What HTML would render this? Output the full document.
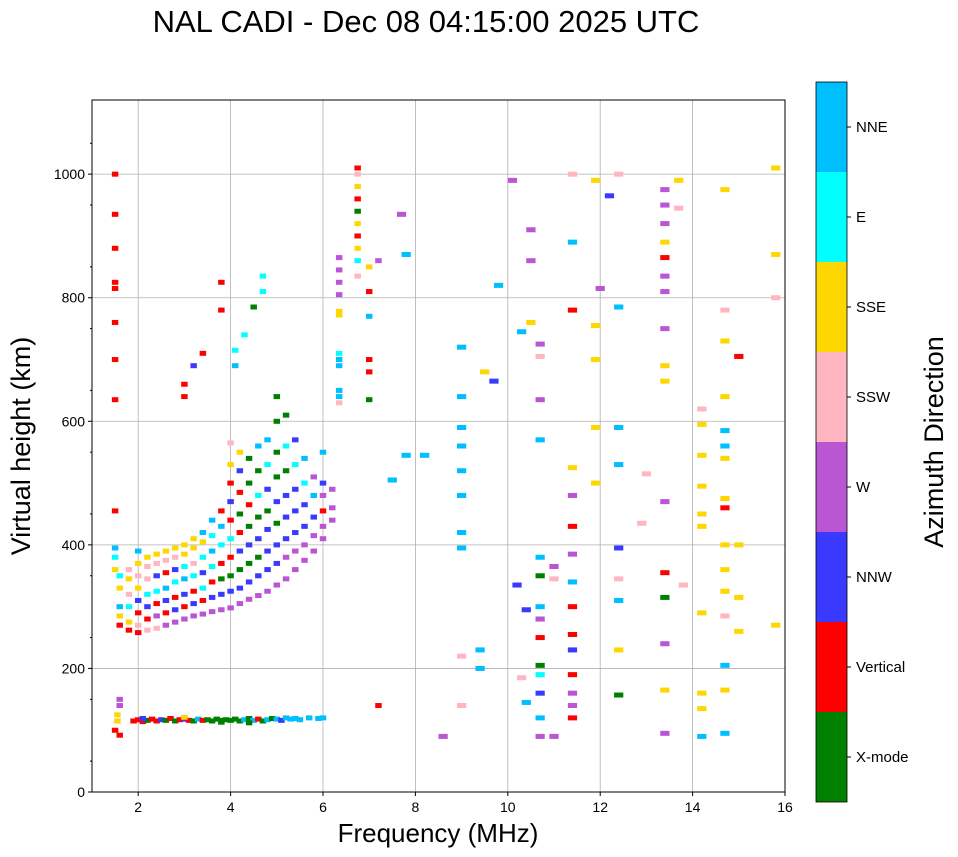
<!DOCTYPE html>
<html><head><meta charset="utf-8">
<style>
body{margin:0;background:#fff;}
svg{display:block;font-family:"Liberation Sans",sans-serif;}
</style></head>
<body>
<svg id="chart" width="958" height="857" xmlns="http://www.w3.org/2000/svg">
<text x="426" y="32" font-size="31" text-anchor="middle">NAL CADI - Dec 08 04:15:00 2025 UTC</text>
<rect x="92" y="100" width="693" height="692" fill="#fff"/>
<g id="grid"></g>
<g id="marks"></g>
<rect x="92" y="100" width="693" height="692" fill="none" stroke="#000" stroke-width="1"/>
<g id="axes"></g>
<text x="438" y="842" font-size="26" text-anchor="middle">Frequency (MHz)</text>
<text transform="translate(30,446) rotate(-90)" font-size="27" text-anchor="middle">Virtual height (km)</text>
<g id="colorbar"></g>
<text transform="translate(943,442) rotate(-90)" font-size="27" text-anchor="middle">Azimuth Direction</text>
</svg>
<script>
const xTicks=[2,4,6,8,10,12,14,16];
const yTicks=[0,200,400,600,800,1000];
const dirNames=["X-mode","Vertical","NNW","W","SSW","SSE","E","NNE"];
const dirColors=["#008000","#ff0000","#3a3aff","#ba55d3","#ffb6c1","#ffd700","#00ffff","#00bfff"];
const freqs=[1.9,2.0,2.1,2.2,2.3,2.4,2.5,2.6,2.7,2.8,2.9,3.0,3.1,3.2,3.3,3.4,3.5,3.6,3.7,3.8,3.9,4.0,4.1,4.2,4.3,4.4,4.5,4.6,4.7,4.8,4.9,5.0,5.1,5.2,5.3,5.4,5.5,5.7,5.9,6.0,2.1,3.0,3.8,4.4,
1.5,1.6,1.55,1.55,1.6,1.6,1.5,1.5,1.5,1.5,1.5,1.5,1.5,1.5,1.5,1.5,1.5,1.5,
1.6,1.6,1.6,1.6,1.6,1.8,1.8,1.8,1.8,1.8,1.8,2.0,2.0,2.0,2.0,2.0,2.0,2.0,2.0,2.2,2.2,2.2,2.2,2.2,2.2,2.2,2.4,2.4,2.4,2.4,2.4,2.4,2.4,2.6,2.6,2.6,2.6,2.6,2.6,2.6,2.8,2.8,2.8,2.8,2.8,2.8,2.8,3.0,3.0,3.0,3.0,3.0,3.0,3.0,3.2,3.2,3.2,3.2,3.2,3.2,3.2,3.4,3.4,3.4,3.4,3.4,3.4,3.4,3.6,3.6,3.6,3.6,3.6,3.6,3.6,3.8,3.8,3.8,3.8,3.8,3.8,3.8,
4.0,4.0,4.0,4.0,4.0,4.0,4.0,4.0,4.0,4.0,4.2,4.2,4.2,4.2,4.2,4.2,4.2,4.2,4.2,4.4,4.4,4.4,4.4,4.4,4.4,4.4,4.4,4.6,4.6,4.6,4.6,4.6,4.6,4.6,4.6,4.8,4.8,4.8,4.8,4.8,4.8,4.8,4.8,5.0,5.0,5.0,5.0,5.0,5.0,5.0,5.0,5.0,5.2,5.2,5.2,5.2,5.2,5.2,5.2,5.2,5.4,5.4,5.4,5.4,5.4,5.4,5.4,5.6,5.6,5.6,5.6,5.6,5.6,5.8,5.8,5.8,5.8,5.8,6.0,6.0,6.0,6.0,6.0,6.0,6.2,6.2,6.2,
3.0,3.0,3.2,3.4,3.8,3.8,4.1,4.1,4.3,4.5,4.7,4.7,
6.35,6.35,6.35,6.35,6.35,6.35,6.35,6.35,6.35,6.35,6.35,6.35,6.75,6.75,6.75,6.75,6.75,6.75,6.75,6.75,6.75,6.75,7.0,7.0,7.0,7.0,7.0,7.0,
9.0,9.0,9.0,9.0,9.0,9.0,9.0,9.0,10.7,10.7,10.7,10.7,10.7,10.7,10.7,10.7,10.7,10.7,10.7,10.7,10.7,10.7,
11.4,11.4,11.4,11.4,11.4,11.4,11.4,11.4,11.4,11.4,11.4,11.4,11.4,11.4,11.4,12.4,12.4,12.4,12.4,12.4,12.4,12.4,12.4,12.4,
13.4,13.4,13.4,13.4,13.4,13.4,13.4,13.4,13.4,13.4,13.4,13.4,13.4,13.4,13.4,13.4,
14.2,14.2,14.2,14.2,14.2,14.2,14.2,14.2,14.2,14.2,
14.7,14.7,14.7,14.7,14.7,14.7,14.7,14.7,14.7,14.7,14.7,14.7,14.7,14.7,14.7,14.7,
15.0,15.0,15.0,15.0,15.8,15.8,15.8,15.8,
9.0,9.0,9.4,9.4,9.5,9.7,10.2,10.3,10.4,10.4,10.5,10.5,10.1,9.8,10.3,10.5,11.0,11.0,11.0,11.9,11.9,11.9,11.9,11.9,12.2,12.0,13.0,12.9,13.8,13.7,13.7,8.2,8.6,7.8,7.7,7.5,7.8,7.2,7.2];
const heights=[115,117,114,116,118,115,117,116,119,115,117,118,116,115,118,116,117,115,118,116,117,116,118,115,117,119,116,118,115,117,119,118,116,120,118,119,117,120,119,120,119,121,113,112,
100,92,115,125,140,150,635,455,700,760,815,825,880,935,1000,395,380,360,
270,285,300,330,350,262,275,300,320,345,360,258,270,290,310,330,350,370,390,262,280,300,320,345,365,380,265,285,305,325,350,370,385,270,290,310,330,355,375,390,275,295,315,340,360,380,395,280,300,320,345,365,385,400,285,305,325,350,370,395,410,288,310,330,355,380,405,420,292,315,340,365,390,415,440,295,320,345,370,400,430,455,
298,325,350,380,410,440,470,500,530,565,305,330,360,390,420,450,485,520,550,312,340,370,400,430,465,500,540,318,350,380,410,445,480,520,560,325,360,390,425,455,490,530,570,335,370,400,435,470,510,550,600,640,345,380,410,445,480,520,560,610,360,390,420,455,490,530,570,375,400,430,465,500,540,390,415,445,480,510,410,430,455,480,500,550,440,460,490,
640,660,690,710,780,825,690,715,740,785,810,835,
630,640,650,690,700,710,772,778,805,825,845,865,835,860,880,900,920,940,960,980,1000,1010,635,680,700,770,810,850,
395,420,480,520,560,590,640,720,90,120,160,190,205,250,280,300,350,380,570,635,705,725,
120,140,160,190,230,255,300,340,385,430,480,525,780,890,1000,157,230,310,345,395,530,590,785,1000,
95,165,240,315,355,470,665,690,750,810,835,865,890,920,950,975,
90,135,160,290,430,450,495,545,595,620,
95,165,205,285,325,360,400,460,475,540,560,585,640,730,780,975,
260,315,400,705,270,1010,870,800,
140,220,200,230,680,665,335,185,145,295,860,910,990,820,745,760,90,365,345,500,590,700,755,990,965,815,515,435,335,945,990,545,90,870,935,505,545,140,860];
const dirs=[1,1,1,0,1,1,2,0,1,0,1,2,1,0,7,1,0,0,0,0,0,0,0,0,7,0,7,1,0,7,0,7,2,7,7,7,7,7,7,7,2,5,0,0,
1,1,5,5,3,3,1,1,1,1,1,1,1,1,1,7,6,5,
1,5,7,5,6,1,5,6,4,5,4,1,4,1,2,5,4,5,7,4,1,2,6,4,4,5,4,3,1,6,2,4,5,3,1,2,7,1,4,5,3,2,1,6,2,4,5,3,1,2,7,6,5,5,3,2,1,6,4,5,5,3,1,6,2,6,5,7,3,2,1,6,7,6,7,3,2,0,1,6,7,1,
3,2,0,1,6,1,2,1,5,4,3,2,0,2,1,0,1,2,5,3,2,0,2,0,1,0,0,3,2,0,2,0,6,0,7,3,2,2,2,0,2,6,7,3,2,2,0,2,0,0,0,0,3,3,2,2,2,0,6,0,3,3,2,2,2,6,2,3,3,2,2,6,7,3,3,2,7,3,3,3,1,3,2,7,3,3,3,
1,1,2,1,1,1,7,6,6,0,6,6,
4,7,7,7,7,6,5,5,3,3,3,3,4,6,5,1,5,0,1,5,4,1,0,1,1,7,1,5,
7,7,7,7,7,7,7,7,3,7,2,6,0,1,3,7,0,7,7,3,4,3,
1,3,3,1,2,1,1,7,3,1,3,5,1,7,4,0,5,7,4,2,7,7,7,4,
3,5,3,0,1,3,5,5,3,3,3,1,5,3,3,3,
7,5,5,5,5,5,5,5,5,4,
7,5,7,4,5,5,5,1,5,5,7,7,5,5,4,5,
5,5,5,1,5,5,5,4,
4,4,7,7,5,2,2,4,7,2,3,3,3,7,7,5,3,3,4,5,5,5,5,5,2,3,4,4,4,4,5,7,3,7,3,7,7,1,3];

const NS="http://www.w3.org/2000/svg";
const X0=92,X1=785,Y0=792,Y1=100;
const xs=f=>X0+(f-1)*(X1-X0)/15;
const ys=h=>Y0-h*(Y0-Y1)/1120;
function mk(tag,attrs,parent){const e=document.createElementNS(NS,tag);for(const k in attrs)e.setAttribute(k,attrs[k]);parent.appendChild(e);return e;}
const grid=document.getElementById('grid'),axes=document.getElementById('axes'),marks=document.getElementById('marks'),cb=document.getElementById('colorbar');
xTicks.forEach(t=>{
  const l=mk('line',{x1:xs(t),x2:xs(t),y1:Y1,y2:Y0,stroke:'#b0b0b0','stroke-width':0.8},grid);
  
  
  const tk=mk('line',{x1:xs(t),x2:xs(t),y1:Y0,y2:Y0+4,stroke:'#000'},axes);
  
  
  const tx=mk('text',{x:xs(t),y:Y0+20,'font-size':14,'text-anchor':'middle'},axes);
  tx.textContent=t;
  
  
});
yTicks.forEach(t=>{
  const l=mk('line',{x1:X0,x2:X1,y1:ys(t),y2:ys(t),stroke:'#b0b0b0','stroke-width':0.8},grid);
  
  
  const tk=mk('line',{x1:X0-4,x2:X0,y1:ys(t),y2:ys(t),stroke:'#000'},axes);
  
  
  const tx=mk('text',{x:X0-7,y:ys(t)+5,'font-size':14,'text-anchor':'end'},axes);
  tx.textContent=t;
  
  
});
for(let h=50;h<1120;h+=100){
  const m=mk('line',{x1:X0-2,x2:X0,y1:ys(h),y2:ys(h),stroke:'#000'},axes);
  
  
}
for(let i=0;i<freqs.length;i++){
  const w=freqs[i]<7.5?0.14:0.2;
  const r=mk('rect',{x:xs(freqs[i]-w/2),y:ys(heights[i]+4),width:xs(1+w)-X0,height:5,fill:dirColors[dirs[i]]},marks);
  
  
}
const CX=816,CW=31,CT=82,CB=802,bh=(CB-CT)/dirNames.length;
dirNames.forEach((n,i)=>{
  const y=CB-(i+1)*bh;
  const r=mk('rect',{x:CX,y:y,width:CW,height:bh,fill:dirColors[i]},cb);
  
  
  const tk=mk('line',{x1:CX+CW,x2:CX+CW+4,y1:y+bh/2,y2:y+bh/2,stroke:'#000'},cb);
  
  
  const t=mk('text',{x:CX+CW+9,y:y+bh/2+5,'font-size':15},cb);
  t.textContent=n;
  
  
});
const fr=mk('rect',{x:CX,y:CT,width:CW,height:CB-CT,fill:'none',stroke:'#000','stroke-width':0.8},cb);


</script>
</body></html>
